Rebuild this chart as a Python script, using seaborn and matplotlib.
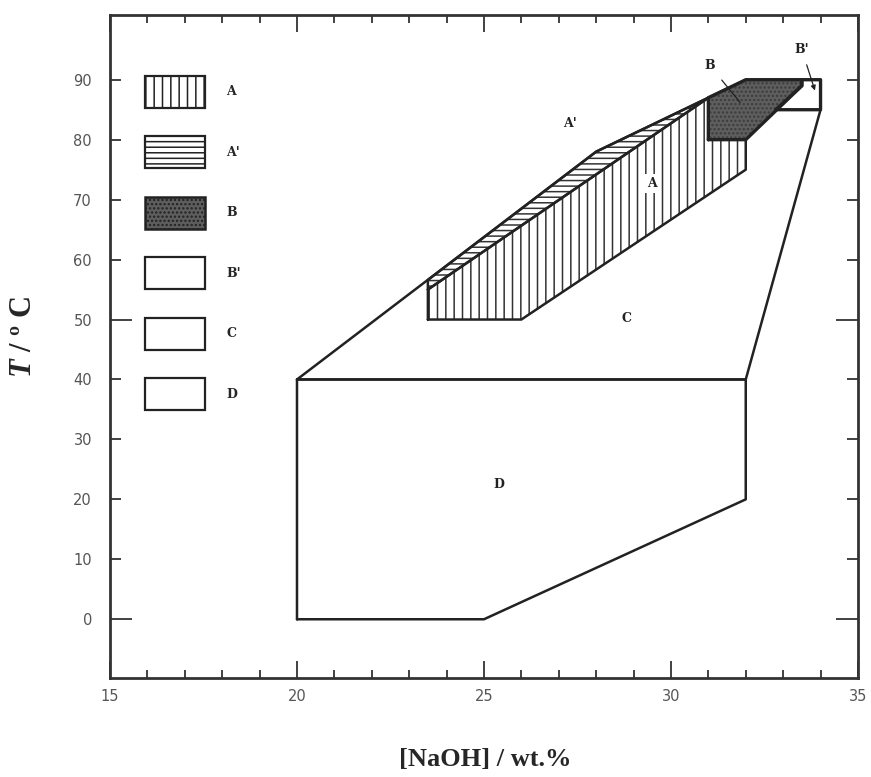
import matplotlib
matplotlib.use("Agg")
import matplotlib.pyplot as plt
import matplotlib.patches as mpatches
from matplotlib.ticker import MultipleLocator, FixedLocator
import seaborn as sns

# region outlines ([NaOH] wt.%, T degC)
region_D_x = [20, 25, 32, 32, 20]
region_D_y = [0, 0, 20, 40, 40]
region_C_x = [20, 28, 32, 34, 34, 32]
region_C_y = [40, 78, 90, 90, 85, 40]
region_A_x = [23.5, 26, 32, 32, 31, 31, 23.5]
region_A_y = [50, 50, 75, 80, 80, 87, 55]
region_A2_x = [23.5, 23.5, 28, 31]
region_A2_y = [55, 56.6, 78, 87]
region_B_x = [31, 32, 33.5, 33.5, 32, 31]
region_B_y = [80, 80, 89, 90, 90, 87]
region_B2_x = [32.8, 34, 34, 33.5, 33.5]
region_B2_y = [85, 85, 90, 90, 89]

legend_labels = ["A", "A'", "B", "B'", "C", "D"]

sns.set_theme(style="ticks")
plt.rcParams["font.family"] = ["DejaVu Sans"]
plt.rcParams["hatch.linewidth"] = 1.1
plt.rcParams["mathtext.fontset"] = "custom"
plt.rcParams["mathtext.it"] = "Liberation Serif:italic:bold"
plt.rcParams["mathtext.rm"] = "Liberation Serif:bold"

fig = plt.figure(figsize=(8.71, 7.77), dpi=100)
ax = fig.add_axes([0.1263, 0.1274, 0.8587, 0.8533])

LINE = "#222222"


def outline(xs, ys, lw=1.8):
    sns.lineplot(x=xs + xs[:1], y=ys + ys[:1], sort=False, estimator=None,
                 color=LINE, lw=lw, ax=ax, legend=False)


# fills
ax.fill(region_A_x, region_A_y, facecolor="white", edgecolor="#333333",
        hatch="||", lw=0)
ax.fill(region_A2_x, region_A2_y, facecolor="white", edgecolor="#333333",
        hatch="---", lw=0)
ax.fill(region_B_x, region_B_y, facecolor="#5e5e5e", edgecolor="#3c3c3c",
        hatch="....", lw=0)

for xs, ys in [(region_D_x, region_D_y), (region_C_x, region_C_y),
               (region_A_x, region_A_y), (region_A2_x, region_A2_y)]:
    outline(xs, ys)
outline(region_B_x, region_B_y, lw=2.4)
outline(region_B2_x, region_B2_y, lw=2.4)

lab = dict(family="DejaVu Serif", fontweight="bold", fontsize=9, color="#222222",
           ha="center", va="center")
ax.text(27.3, 82.7, "A'", **lab)
ax.text(29.5, 72.7, "A", bbox=dict(facecolor="white", edgecolor="none", pad=2), **lab)
ax.text(28.8, 50.2, "C", **lab)
ax.text(25.4, 22.5, "D", **lab)
ax.annotate("B", xy=(31.85, 86.2), xytext=(31.05, 92.3),
            arrowprops=dict(arrowstyle="-", color=LINE, lw=0.9, shrinkA=4, shrinkB=0), **lab)
ax.annotate("B'", xy=(33.85, 88.2), xytext=(33.5, 95.0),
            arrowprops=dict(arrowstyle="-|>", color=LINE, lw=0.9, mutation_scale=7,
                            shrinkA=4, shrinkB=0), **lab)

# legend boxes
handles = [
    mpatches.Patch(facecolor="white", edgecolor=LINE, hatch="||", lw=1.6),
    mpatches.Patch(facecolor="white", edgecolor=LINE, hatch="---", lw=1.6),
    mpatches.Patch(facecolor="#5e5e5e", edgecolor=LINE, hatch="....", lw=1.8),
    mpatches.Patch(facecolor="white", edgecolor=LINE, lw=1.6),
    mpatches.Patch(facecolor="white", edgecolor=LINE, lw=1.6),
    mpatches.Patch(facecolor="white", edgecolor=LINE, lw=1.6),
]
leg = ax.legend(handles, legend_labels, loc="upper left", bbox_to_anchor=(0.047, 0.908),
                frameon=False, borderpad=0, borderaxespad=0, handlelength=4.8,
                handleheight=3.56, labelspacing=2.28, handletextpad=1.7,
                prop=dict(family="DejaVu Serif", weight="bold", size=9))

ax.set_xlim(15, 35)
ax.set_ylim(-9.8, 100.8)
ax.xaxis.set_major_locator(MultipleLocator(5))
ax.xaxis.set_minor_locator(MultipleLocator(1))
ax.yaxis.set_major_locator(FixedLocator(range(0, 100, 10)))

for side in ["top", "bottom", "left", "right"]:
    ax.spines[side].set_visible(True)
    ax.spines[side].set_linewidth(2.0)
    ax.spines[side].set_color("#333333")

ax.tick_params(which="both", direction="in", top=True, right=True,
               color="#333333", width=1.3, labelcolor="#555555", labelsize=10.5)
ax.tick_params(axis="x", which="major", length=12, pad=8)
ax.tick_params(axis="x", which="minor", length=6)
ax.tick_params(axis="y", which="major", length=8, pad=13)
# longer ticks at 0 and 50 like the original
for t, v in zip(ax.yaxis.get_major_ticks(), range(0, 100, 10)):
    if v in (0, 50):
        t.tick1line.set_markersize(16)
        t.tick2line.set_markersize(16)

fig.text(0.557, 0.022, "[NaOH] / wt.%", ha="center", va="center",
         family="Liberation Serif", fontweight="bold", fontsize=19)
fig.text(0.027, 0.566, r"$T$ / º C", rotation=90, ha="center", va="center",
         family="Liberation Serif", fontweight="bold", fontsize=22)

fig.savefig("out.png", dpi=100, facecolor="white")
